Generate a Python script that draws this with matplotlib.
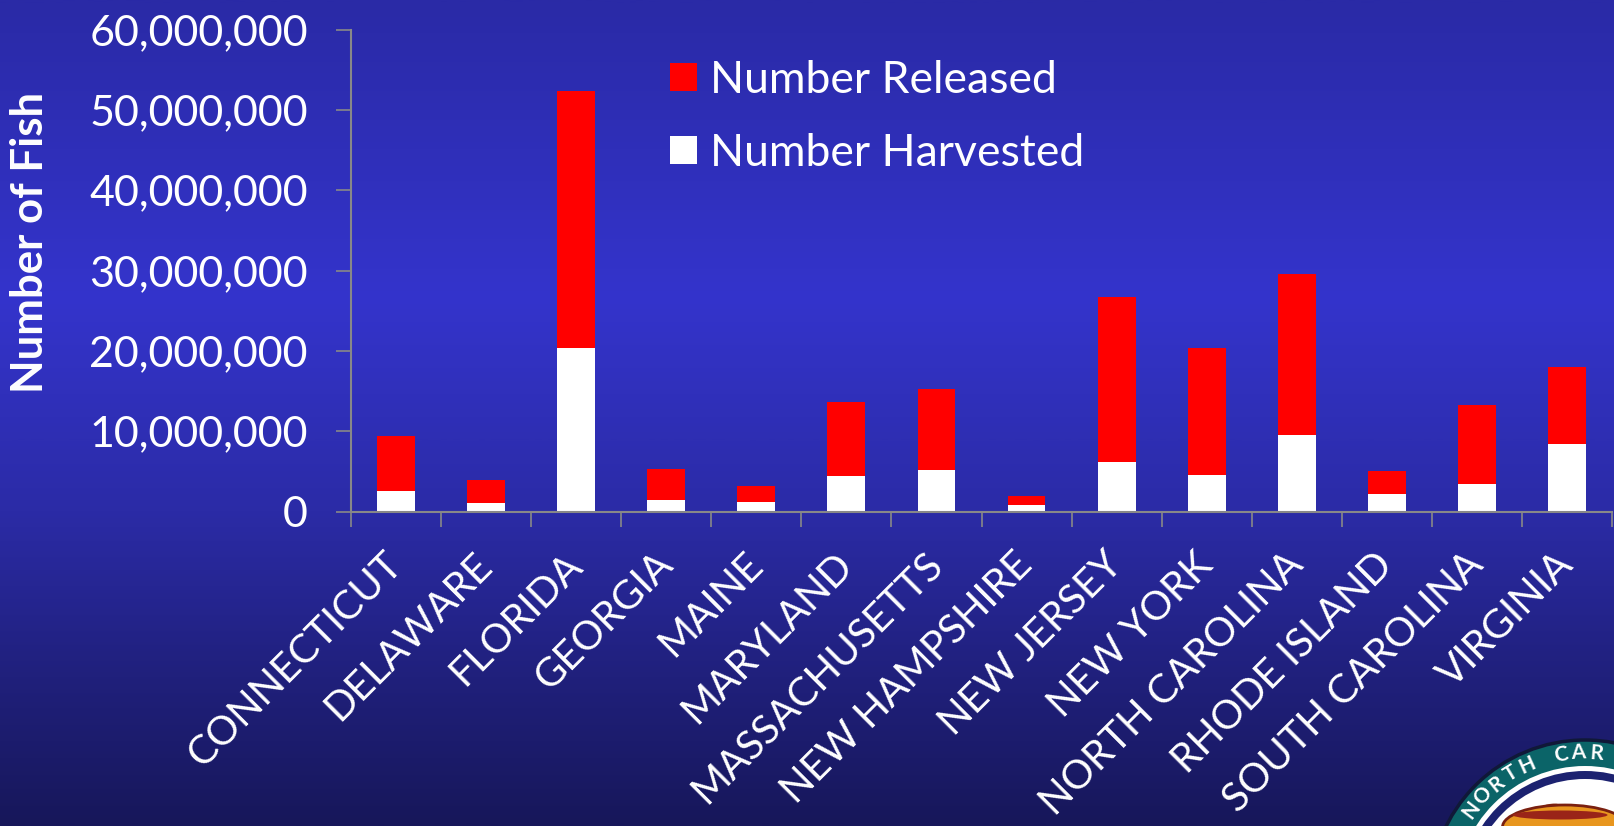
import numpy as np
import matplotlib
matplotlib.use("Agg")
import matplotlib.pyplot as plt
from matplotlib.colors import LinearSegmentedColormap
from matplotlib.patches import Circle, Ellipse, Patch
from matplotlib.ticker import FuncFormatter, FixedLocator

# ---------------- data ----------------
states = ["CONNECTICUT", "DELAWARE", "FLORIDA", "GEORGIA", "MAINE", "MARYLAND",
          "MASSACHUSETTS", "NEW HAMPSHIRE", "NEW JERSEY", "NEW YORK",
          "NORTH CAROLINA", "RHODE ISLAND", "SOUTH CAROLINA", "VIRGINIA"]
harvested = [2600000, 1090000, 20400000, 1430000, 1180000, 4380000, 5220000,
             750000, 6170000, 4500000, 9500000, 2170000, 3460000, 8460000]
released = [6780000, 2860000, 31900000, 3830000, 1980000, 9290000, 10050000,
            1230000, 20580000, 15800000, 20100000, 2830000, 9840000, 9540000]
yticks = [0, 10000000, 20000000, 30000000, 40000000, 50000000, 60000000]

W, H = 1614, 826
FONT = "Lato"
GRID = "#888888"

fig = plt.figure(figsize=(W / 100, H / 100), dpi=100)

# ---------------- background gradient + logo ----------------
bg = fig.add_axes([0, 0, 1, 1], zorder=0)
grad = LinearSegmentedColormap.from_list(
    "bg", [(0.0, "#2a2aa6"), (0.36, "#3434cc"), (0.62, "#2b2ba6"),
           (0.82, "#20207c"), (1.0, "#17175a")])
bg.imshow(np.linspace(0, 1, 400).reshape(-1, 1), cmap=grad, aspect="auto",
          extent=[0, W, H, 0])
bg.set_xlim(0, W)
bg.set_ylim(H, 0)
bg.axis("off")

# logo, partly off the canvas (bottom right)
cx, cy = 1585, 895
bg.add_patch(Circle((cx, cy), 155, fc="#0b6468", ec="#101838", lw=2.5))
bg.add_patch(Circle((cx, cy), 129, fc="white", ec="none"))
bg.add_patch(Circle((cx, cy), 124, fc="#1c2270", ec="none"))
bg.add_patch(Circle((cx, cy), 116, fc="white", ec="none"))
bg.add_patch(Ellipse((cx - 40, cy - 78), 40, 20, angle=-25, fc="#e07a1a", ec="#8a2a10", lw=1.5))
bg.add_patch(Ellipse((cx - 20, cy - 68), 125, 44, fc="#e8961e", ec="#7a2010", lw=2))
bg.add_patch(Ellipse((cx - 25, cy - 80), 95, 9, fc="#9a2418", ec="none"))
for i, ch in enumerate("NORTH CAROL"):
    ang = np.deg2rad(143 - 7.2 * i)
    px, py = cx + 142 * np.cos(ang), cy - 142 * np.sin(ang)
    if ch == " " or px > W - 12 or py > H - 12:
        continue
    bg.text(px, py, ch, color="white", fontsize=15, fontweight="bold", family=FONT,
            ha="center", va="center", rotation=np.rad2deg(ang) - 90)

# ---------------- main chart ----------------
ax = fig.add_axes([351 / W, 1 - 511.5 / H, 1261 / W, 482 / H], zorder=1)
ax.patch.set_alpha(0)

x = np.arange(len(states))
ax.bar(x, harvested, width=0.42, color="white", label="Number Harvested", zorder=2)
ax.bar(x, released, width=0.42, bottom=harvested, color="#ff0000",
       label="Number Released", zorder=2)

ax.set_xlim(-0.5, len(states) - 0.5)
ax.set_ylim(0, 60000000)
ax.set_yticks(yticks)
ax.yaxis.set_major_formatter(FuncFormatter(lambda v, p: f"{int(v):,}"))

ax.set_xticks(x)
ax.set_xticklabels(states, rotation=45, ha="right", va="center",
                   rotation_mode="anchor", fontsize=29, color="white", family=FONT)
ax.xaxis.set_minor_locator(FixedLocator(np.arange(-0.5, len(states), 1.0)))
ax.tick_params(axis="x", which="major", length=0, pad=34)
ax.tick_params(axis="x", which="minor", length=11, width=1.2, color=GRID, direction="out")
ax.tick_params(axis="y", length=11, width=1.2, color=GRID, pad=20,
               labelsize=31, labelcolor="white")
for lab in ax.get_yticklabels():
    lab.set_family(FONT)

for side in ["top", "right"]:
    ax.spines[side].set_visible(False)
for side in ["left", "bottom"]:
    ax.spines[side].set_color(GRID)
    ax.spines[side].set_linewidth(1.5)

fig.text(30 / W, 1 - 242 / H, "Number of Fish", rotation=90, ha="center",
         va="center", color="white", fontsize=31.5, fontweight="bold", family=FONT)

handles = [Patch(fc="#ff0000", ec="none"), Patch(fc="white", ec="none")]
fig.legend(handles, ["Number Released", "Number Harvested"], loc="upper left",
           bbox_to_anchor=(670 / W, 1 - 60 / H), frameon=False,
           prop={"family": FONT, "size": 32}, labelcolor="white",
           handlelength=0.6, handleheight=0.6, handletextpad=0.3,
           labelspacing=0.72, borderpad=0, borderaxespad=0)

fig.savefig("out.png", dpi=100)
plt.close()
